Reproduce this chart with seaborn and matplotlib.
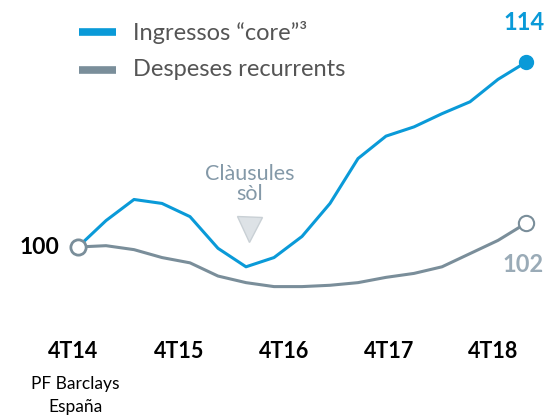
import numpy as np
import pandas as pd
import matplotlib
matplotlib.use("Agg")
import matplotlib.pyplot as plt
import seaborn as sns

# ---- data (quarterly index, 4T14 = 0 ... 4T18 = 16; index 4T14 = 100) ----
quarters = list(range(17))
ingressos = [100.0, 102.0, 103.6, 103.3, 102.3, 99.9, 98.5, 99.2, 100.8,
             103.3, 106.7, 108.4, 109.1, 110.1, 111.0, 112.7, 114.0]
despeses = [100.0, 100.1, 99.8, 99.2, 98.8, 97.8, 97.3, 97.0, 97.0,
            97.1, 97.3, 97.7, 98.0, 98.5, 99.5, 100.5, 101.8]
series_names = ["Ingressos \u201ccore\u201d\u00b3", "Despeses recurrents"]
year_labels = ["4T14", "4T15", "4T16", "4T17", "4T18"]

BLUE = "#0A9AD8"
GRAY = "#7A8E9A"
LGRAY = "#9AABB7"

df = pd.concat([
    pd.DataFrame({"q": quarters, "v": ingressos, "s": series_names[0]}),
    pd.DataFrame({"q": quarters, "v": despeses, "s": series_names[1]}),
])

sns.set_theme(style="white")
plt.rcParams["font.family"] = ["Lato", "DejaVu Sans"]

fig = plt.figure(figsize=(5.55, 4.18), dpi=100)
ax = fig.add_axes([0, 0, 1, 1])

# pixel mapping helpers (layout only)
PX0, PXQ = 78.0, 28.0
PY0, PYU = 247.0, 13.2
def px2x(px):
    return (px - PX0) / PXQ
def py2y(py):
    return 100.0 - (py - PY0) / PYU

sns.lineplot(data=df, x="q", y="v", hue="s", palette=[BLUE, GRAY],
             linewidth=2.2, legend=False, ax=ax)
for ln in ax.lines:
    ln.set_solid_joinstyle("round")
ax.set_xlim(px2x(0), px2x(555))
ax.set_ylim(py2y(418), py2y(0))
ax.axis("off")

# markers
ax.plot([quarters[0]], [despeses[0]], marker="o", ms=11, mfc="white",
        mec=GRAY, mew=2, zorder=5)
ax.plot([quarters[-1]], [ingressos[-1]], marker="o", ms=10, mfc=BLUE,
        mec=BLUE, mew=1, zorder=5)
ax.plot([quarters[-1]], [despeses[-1]], marker="o", ms=11, mfc="white",
        mec=GRAY, mew=1.5, zorder=5)

# value labels
ax.text(px2x(59), py2y(247), f"{ingressos[0]:.0f}", ha="right", va="center",
        fontsize=16.5, fontweight="bold", color="black")
ax.text(px2x(524), py2y(22), f"{ingressos[-1]:.0f}", ha="center", va="center",
        fontsize=17, fontweight="bold", color=BLUE)
ax.text(px2x(523), py2y(265), f"{despeses[-1]:.0f}", ha="center", va="center",
        fontsize=17, fontweight="bold", color=LGRAY)

# annotation
ax.text(px2x(250), py2y(184), "Clàusules\nsòl", ha="center", va="center",
        fontsize=15.5, color="#8499A8", linespacing=1.05)
ax.plot([px2x(249)], [py2y(229)], marker="v", ms=18, mfc="#DDE2E6",
        mec="#C9D0D5", mew=1, zorder=4)

# x labels
for lab, px in zip(year_labels, [73, 179, 284, 389, 493]):
    ax.text(px2x(px), py2y(352), lab, ha="center", va="center",
            fontsize=15.5, fontweight="bold", color="black")
ax.text(px2x(75), py2y(384), "PF Barclays", ha="center", va="center",
        fontsize=12.5, color="black")
ax.text(px2x(75), py2y(407), "España", ha="center", va="center",
        fontsize=12.5, color="black")

# legend
for name, col, py in zip(series_names, [BLUE, GRAY], [32, 70]):
    ax.plot([px2x(79), px2x(116)], [py2y(py), py2y(py)], color=col,
            lw=5.5, solid_capstyle="butt")
    ax.text(px2x(133), py2y(py), name, ha="left", va="center",
            fontsize=17, color="#555555")

fig.savefig("out.png", dpi=100)
